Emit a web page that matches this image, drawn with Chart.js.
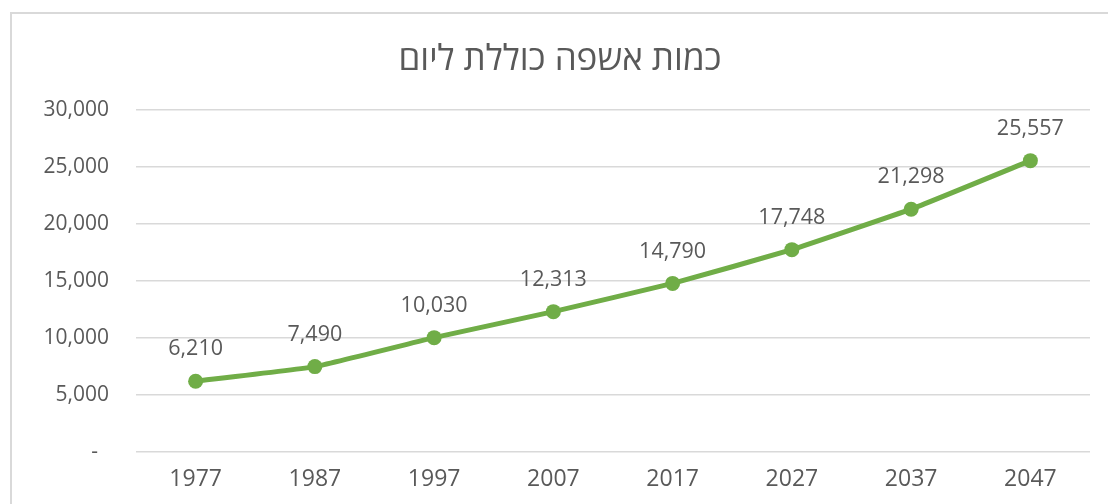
<!DOCTYPE html>
<html>
<head>
<meta charset="utf-8">
<script src="https://cdn.jsdelivr.net/npm/chart.js@4"></script>
<style>
  html, body { margin: 0; padding: 0; background: #fff; overflow: hidden; width: 1108px; height: 504px; }
  #frame { position: absolute; left: 10px; top: 12px; width: 1200px; height: 600px; border: 2px solid #d9d9d9; box-sizing: border-box; }
  #wrap { position: absolute; left: 0; top: 0; width: 1120px; height: 504px; }
</style>
</head>
<body>
<div id="frame"></div>
<div id="wrap"><canvas id="chart" width="1120" height="504"></canvas></div>
<script>
// נתונים
const years = ['1977', '1987', '1997', '2007', '2017', '2027', '2037', '2047'];
const wastePerDay = [6210, 7490, 10030, 12313, 14790, 17748, 21298, 25557];
const chartTitle = 'כמות אשפה כוללת ליום';

const textColor = '#595959';
const lineColor = '#70ad47';
const fontFamily = '"Open Sans", "DejaVu Sans", sans-serif';

// תוויות ערכים מעל הנקודות
const valueLabels = {
    id: 'valueLabels',
    afterDatasetsDraw(chart) {
        const ctx = chart.ctx;
        const meta = chart.getDatasetMeta(0);
        ctx.save();
        ctx.font = '21.5px ' + fontFamily;
        ctx.fillStyle = textColor;
        ctx.textAlign = 'center';
        ctx.textBaseline = 'middle';
        meta.data.forEach((pt, i) => {
            ctx.fillText(wastePerDay[i].toLocaleString('en-US'), pt.x, pt.y - 32);
        });
        ctx.restore();
    }
};

new Chart(document.getElementById('chart'), {
    type: 'line',
    data: {
        labels: years,
        datasets: [{
            data: wastePerDay,
            borderColor: lineColor,
            backgroundColor: lineColor,
            borderWidth: 5,
            pointRadius: 7.5,
            pointHoverRadius: 7.5,
            pointBorderWidth: 0,
            tension: 0.1
        }]
    },
    options: {
        responsive: false,
        animation: false,
        devicePixelRatio: 1,
        layout: { padding: { left: 30, right: 30, top: 0, bottom: 0 } },
        plugins: {
            legend: { display: false },
            tooltip: { enabled: false },
            title: {
                display: true,
                text: chartTitle,
                color: textColor,
                font: { family: fontFamily, size: 35, weight: 'normal' },
                padding: { top: 39, bottom: 29 }
            }
        },
        scales: {
            x: {
                offset: true,
                grid: { display: false, drawTicks: false },
                border: { display: false },
                ticks: { color: textColor, font: { family: fontFamily, size: 23 }, padding: 14, maxRotation: 0 },
                afterFit(s) { s.height = 52; }
            },
            y: {
                min: 0,
                max: 30000,
                grid: { color: '#d9d9d9', lineWidth: 1.5, drawTicks: false },
                border: { display: false },
                ticks: {
                    stepSize: 5000,
                    color: textColor,
                    font: { family: fontFamily, size: 21 },
                    padding: 27,
                    callback: v => v === 0 ? '-  ' : v.toLocaleString('en-US')
                },
                afterFit(s) { s.width = 106; }
            }
        }
    },
    plugins: [valueLabels]
});
</script>
</body>
</html>
